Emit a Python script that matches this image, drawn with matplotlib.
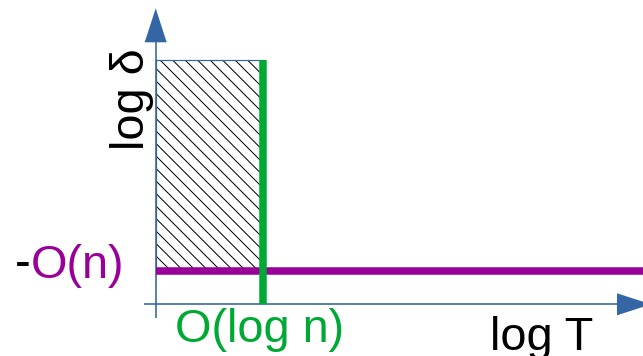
import matplotlib
matplotlib.use("Agg")
import matplotlib.pyplot as plt
from matplotlib.patches import Rectangle, Polygon

# ---- schematic values (pixel-like units, origin at axes crossing) ----
log_T_threshold = 107.3      # O(log n) position on log T axis
log_delta_max = 244.8        # top of hatched region on log delta axis
log_delta_floor = 33.3       # -O(n) level on log delta axis
log_T_extent = 487.3         # right end of the log T axis
log_delta_extent = 296.0     # top of the log delta axis (arrow tip)

x_label = "log T"
y_label = "log δ"
threshold_label = "O(log n)"
floor_label = "O(n)"

BLUE = "#3465a4"
GREEN = "#00a933"
PURPLE = "#990099"

DPI = 75
PX = 72.0 / DPI  # points per pixel

plt.rcParams["font.family"] = ["Liberation Sans", "DejaVu Sans"]
plt.rcParams["hatch.linewidth"] = 1.0 * PX

fig = plt.figure(figsize=(643 / DPI, 356 / DPI), dpi=DPI)
ax = fig.add_axes([0, 0, 1, 1])
ax.set_xlim(-155.7, 487.3)
ax.set_ylim(-51.7, 304.3)
ax.axis("off")

# hatched region
ax.add_patch(Rectangle((0, log_delta_floor), log_T_threshold, log_delta_max - log_delta_floor,
                       facecolor="none", edgecolor="black", linewidth=0, hatch="\\\\", zorder=1))
ax.add_patch(Rectangle((0, log_delta_floor), log_T_threshold, log_delta_max - log_delta_floor,
                       facecolor="none", edgecolor=BLUE, linewidth=1.2 * PX, zorder=2))

# axes lines
ax.plot([0, 0], [-14, log_delta_extent - 34], color=BLUE, lw=1.6 * PX, zorder=3, solid_capstyle="butt")
ax.plot([-12, log_T_extent + 8 - 34], [0, 0], color=BLUE, lw=1.6 * PX, zorder=3, solid_capstyle="butt")
# arrowheads
ax.add_patch(Polygon([(-11, log_delta_extent - 34), (11, log_delta_extent - 34), (0, log_delta_extent)],
                     closed=True, facecolor=BLUE, edgecolor="none", zorder=4))
xt = log_T_extent + 8
ax.add_patch(Polygon([(xt - 34, -11), (xt - 34, 11), (xt, 0)],
                     closed=True, facecolor=BLUE, edgecolor="none", zorder=4))

# threshold and floor lines
ax.plot([0, log_T_extent], [log_delta_floor, log_delta_floor], color=PURPLE, lw=7.5 * PX,
        solid_capstyle="butt", zorder=5)
ax.plot([log_T_threshold, log_T_threshold], [0, log_delta_max], color=GREEN, lw=7.5 * PX,
        solid_capstyle="butt", zorder=6)

FS = 45
# labels
ax.text(-11.7, 304.3 - 150, y_label, rotation=90, rotation_mode="anchor",
        ha="left", va="baseline", fontsize=FS, color="black")
ax.text(490 - 155.7, 304.3 - 350, x_label, ha="left", va="baseline", fontsize=FS, color="black")
ax.text(175 - 155.7, 304.3 - 342, threshold_label, ha="left", va="baseline", fontsize=FS, color=GREEN)
t = ax.text(124.5 - 155.7, 304.3 - 277.5, floor_label, ha="right", va="baseline", fontsize=FS, color=PURPLE)
ax.annotate("-", xy=(0, 0), xycoords=t, ha="right", va="bottom", fontsize=FS, color="black")

fig.savefig("out.png", dpi=DPI)
